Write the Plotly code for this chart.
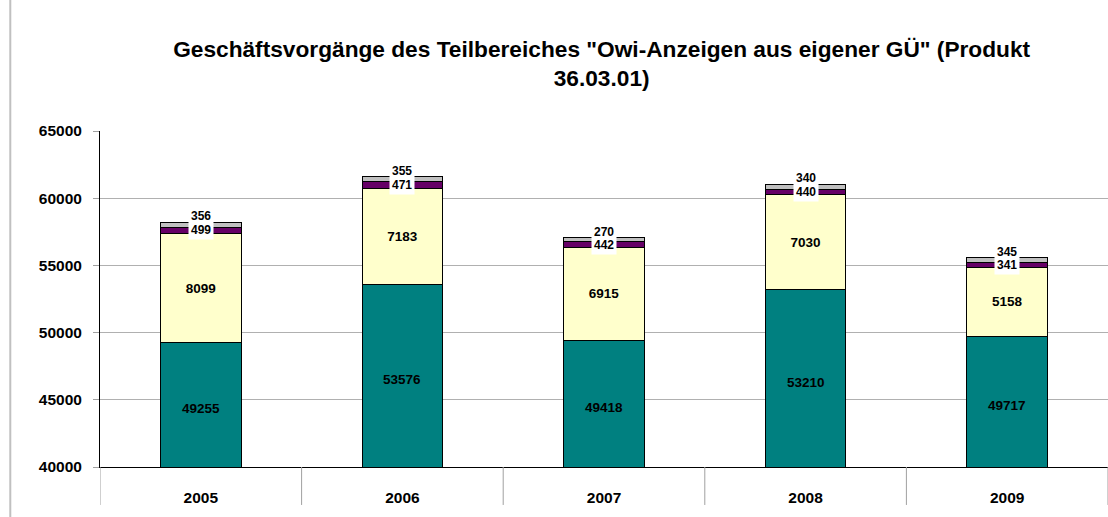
import plotly.graph_objects as go

years = ["2005", "2006", "2007", "2008", "2009"]
teal_vals = [49255, 53576, 49418, 53210, 49717]
yellow_vals = [8099, 7183, 6915, 7030, 5158]
purple_vals = [499, 471, 442, 440, 341]
gray_vals = [356, 355, 270, 340, 345]
y_min, y_max = 40000, 65000

title_text = 'Geschäftsvorgänge des Teilbereiches "Owi-Anzeigen aus eigener GÜ" (Produkt<br>36.03.01)'

FONT = "Liberation Sans, Arial, sans-serif"
line = dict(color="black", width=1)
xs = list(range(len(years)))

fig = go.Figure()
fig.add_bar(x=xs, y=teal_vals, width=0.4, marker=dict(color="#008080", line=line))
fig.add_bar(x=xs, y=yellow_vals, width=0.4, marker=dict(color="#FFFFCC", line=line),
            text=[str(v) for v in yellow_vals], textposition="inside",
            insidetextanchor="middle", textangle=0,
            textfont=dict(family=FONT, size=13.5, color="black", weight="bold"))
fig.add_bar(x=xs, y=purple_vals, width=0.4, marker=dict(color="#660066", line=line))
fig.add_bar(x=xs, y=gray_vals, width=0.4, marker=dict(color="#C0C0C0", line=line))

annotations = []
for i in xs:
    base = teal_vals[i] + yellow_vals[i]
    pmid = base + purple_vals[i] / 2
    top = base + purple_vals[i] + gray_vals[i]
    annotations.append(dict(x=i, y=(y_min + teal_vals[i]) / 2, xref="x", yref="y",
                            text=str(teal_vals[i]), showarrow=False, yshift=-4,
                            font=dict(family=FONT, size=13.5, color="black", weight="bold")))
    annotations.append(dict(x=i, y=pmid, xref="x", yref="y", text=str(purple_vals[i]),
                            showarrow=False, yanchor="middle", bgcolor="white", borderpad=2,
                            font=dict(family=FONT, size=12, color="black", weight="bold")))
    annotations.append(dict(x=i, y=top, xref="x", yref="y", text=str(gray_vals[i]),
                            showarrow=False, yanchor="bottom", yshift=-3,
                            font=dict(family=FONT, size=12, color="black", weight="bold")))

shapes = []
for k in range(len(years) + 1):
    shapes.append(dict(type="line", xref="x", yref="paper", x0=k - 0.5, x1=k - 0.5,
                       y0=0, y1=-0.113, line=dict(color="#A0A0A0", width=1)))
shapes.append(dict(type="line", xref="paper", yref="paper", x0=-0.089, x1=-0.089,
                   y0=-0.2, y1=1.4, line=dict(color="#C0C0C0", width=2)))

fig.update_layout(
    barmode="stack",
    showlegend=False,
    width=1108, height=517,
    margin=dict(l=100, r=0, t=131, b=50),
    paper_bgcolor="white", plot_bgcolor="white",
    font=dict(family=FONT, color="black"),
    title=dict(text=title_text, x=0.543, xanchor="center", y=0.89, yanchor="top",
               font=dict(family=FONT, size=22.7, color="black", weight="bold")),
    xaxis=dict(tickmode="array", tickvals=xs, ticktext=years,
               showline=True, linecolor="black", linewidth=1,
               ticks="", showgrid=False, zeroline=False,
               tickfont=dict(family=FONT, size=15.5, color="black", weight="bold"),
               ticklabelstandoff=16, range=[-0.5, len(years) - 0.5]),
    yaxis=dict(range=[y_min, y_max], dtick=5000, tickformat="d", showgrid=True,
               gridcolor="#B0B0B0", gridwidth=1, showline=True, linecolor="black",
               linewidth=1, ticks="outside", ticklen=6, tickcolor="#A0A0A0",
               tickfont=dict(family=FONT, size=15.5, color="black", weight="bold"),
               ticklabelstandoff=8, zeroline=False),
    annotations=annotations,
    shapes=shapes,
    uniformtext=dict(minsize=13, mode="show"),
)

fig.write_html("out.html", config={"displayModeBar": False},
               post_script="document.body.style.margin='0';")
